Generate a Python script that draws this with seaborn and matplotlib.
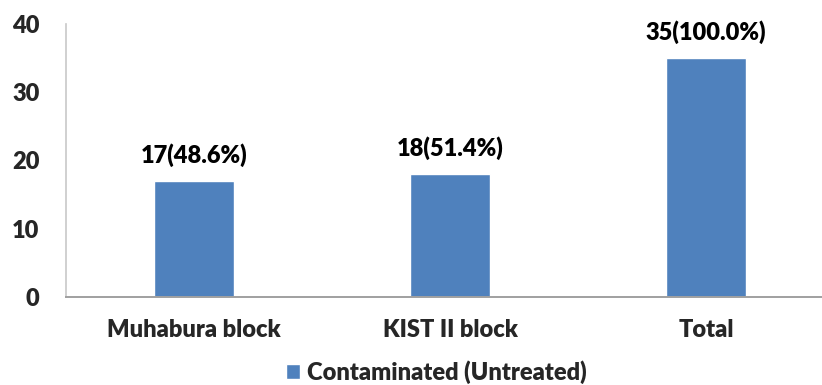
import matplotlib
matplotlib.use("Agg")
import matplotlib.pyplot as plt
import seaborn as sns
import pandas as pd

categories = ["Muhabura block", "KIST II block", "Total"]
counts = [17, 18, 35]
percents = [48.6, 51.4, 100.0]
series_name = "Contaminated (Untreated)"
yticks = [0, 10, 20, 30, 40]

WEIGHT = "heavy"

sns.set_theme(style="white")
plt.rcParams["font.family"] = ["Lato", "DejaVu Sans"]
plt.rcParams["font.weight"] = WEIGHT

df = pd.DataFrame({"Block": categories, "Count": counts, "Series": series_name})

fig = plt.figure(figsize=(8.22, 3.85), dpi=100)
ax = fig.add_axes([0.0803, 0.2286, 0.9197, 0.7091])

sns.barplot(data=df, x="Block", y="Count", hue="Series", palette=["#4F81BD"],
            width=0.31, ax=ax, legend=True, saturation=1)

for i, (c, p) in enumerate(zip(counts, percents)):
    ax.text(i, c + 2.1, f"{c}({p:.1f}%)", ha="center", va="bottom",
            fontsize=17, fontweight=WEIGHT, color="#000000")

ax.set_xlim(-0.5, 2.453)
ax.set_ylim(0, 40)
ax.set_yticks(yticks)
ax.set_yticklabels([str(t) for t in yticks], fontsize=17, fontweight=WEIGHT)
ax.tick_params(axis="x", labelsize=17, pad=16, length=0)
ax.tick_params(axis="y", pad=19, length=0)
for lbl in ax.get_xticklabels():
    lbl.set_fontweight(WEIGHT)
ax.set_xlabel("")
ax.set_ylabel("")

for side in ["top", "right"]:
    ax.spines[side].set_visible(False)
ax.spines["left"].set_color("#C8C8C8")
ax.spines["bottom"].set_color("#A0A0A0")
ax.spines["left"].set_linewidth(1.2)
ax.spines["bottom"].set_linewidth(1.4)

leg = ax.legend(loc="center", bbox_to_anchor=(0.49, -0.275), frameon=False,
                fontsize=17, handlelength=0.6, handleheight=0.6,
                handletextpad=0.3, borderaxespad=0, borderpad=0)
for t in leg.get_texts():
    t.set_fontweight(WEIGHT)

fig.savefig("out.png", dpi=100)
